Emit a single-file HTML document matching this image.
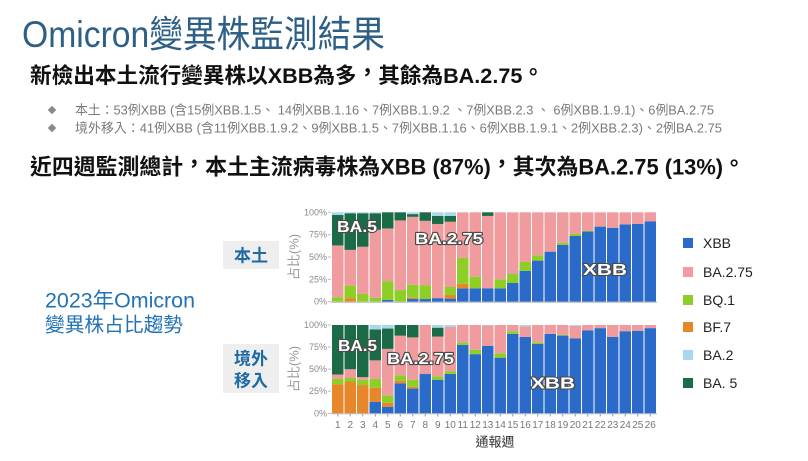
<!DOCTYPE html>
<html lang="zh-TW">
<head>
<meta charset="utf-8">
<style>
  html,body{margin:0;padding:0;background:#fff;}
  body{width:808px;height:461px;overflow:hidden;position:relative;}
  svg{position:absolute;left:0;top:0;}
  .cjk{font-family:"Liberation Sans","Noto Sans CJK TC","Noto Sans CJK SC",sans-serif;}
</style>
</head>
<body>
<svg id="s" lang="zh-TW" width="808" height="461" viewBox="0 0 808 461" xmlns="http://www.w3.org/2000/svg" class="cjk">
  <!-- Title -->
  <text x="22" y="47" font-size="37" fill="#2e5f86" textLength="363" lengthAdjust="spacingAndGlyphs">Omicron變異株監測結果</text>
  <!-- Headline 1 -->
  <text x="30" y="83" font-size="21.5" font-weight="bold" fill="#111" textLength="514" lengthAdjust="spacingAndGlyphs">新檢出本土流行變異株以XBB為多<tspan dy="-3">，</tspan><tspan dy="3">其餘為BA.2.75</tspan><tspan dy="-3">。</tspan></text>
  <!-- bullets -->
  <rect x="49" y="107" width="6" height="6" fill="#8a8a8a" transform="rotate(45 52 110)"/>
  <text x="75" y="114.5" font-size="13" fill="#7a7a7a" textLength="639" lengthAdjust="spacingAndGlyphs">本土：53例XBB (含15例XBB.1.5、 14例XBB.1.16、7例XBB.1.9.2 、7例XBB.2.3 、 6例XBB.1.9.1)、6例BA.2.75</text>
  <rect x="49" y="125" width="6" height="6" fill="#8a8a8a" transform="rotate(45 52 128)"/>
  <text x="75" y="132.5" font-size="13" fill="#7a7a7a" textLength="647" lengthAdjust="spacingAndGlyphs">境外移入：41例XBB (含11例XBB.1.9.2、9例XBB.1.5、7例XBB.1.16、6例XBB.1.9.1、2例XBB.2.3)、2例BA.2.75</text>
  <!-- Headline 2 -->
  <text x="30" y="174.5" font-size="22" font-weight="bold" fill="#111" textLength="715" lengthAdjust="spacingAndGlyphs">近四週監測總計<tspan dy="-3">，</tspan><tspan dy="3">本土主流病毒株為XBB (87%)</tspan><tspan dy="-3">，</tspan><tspan dy="3">其次為BA.2.75 (13%)</tspan><tspan dy="-3">。</tspan></text>

  <!-- Left caption -->
  <text x="45" y="307.5" font-size="21" fill="#2272b6" textLength="150" lengthAdjust="spacingAndGlyphs">2023年Omicron</text>
  <text x="45" y="331.5" font-size="20" fill="#2272b6" textLength="138" lengthAdjust="spacingAndGlyphs">變異株占比趨勢</text>

  <!-- group labels -->
  <rect x="223" y="241" width="56" height="28" fill="#eeeeee"/>
  <text x="251" y="261.5" font-size="17" font-weight="bold" fill="#1d6aa5" text-anchor="middle">本土</text>
  <rect x="223" y="344" width="56" height="49" fill="#eeeeee"/>
  <text x="251" y="364.5" font-size="17" font-weight="bold" fill="#1d6aa5" text-anchor="middle">境外</text>
  <text x="251" y="386.5" font-size="17" font-weight="bold" fill="#1d6aa5" text-anchor="middle">移入</text>

  <!-- y-axis titles -->
  <text x="0" y="0" font-size="13" fill="#9a9a9a" text-anchor="middle" transform="translate(298.5 257) rotate(-90)">占比(%)</text>
  <text x="0" y="0" font-size="13" fill="#9a9a9a" text-anchor="middle" transform="translate(298.5 369) rotate(-90)">占比(%)</text>

  <g id="bars"></g>
  <g id="axes" font-size="9" fill="#8a8a8a"></g>

  <!-- in-chart labels -->
  <g font-family="Liberation Sans, sans-serif" font-weight="bold" font-size="16" fill="#ffffff" stroke="#4a4a4a" stroke-width="2.2" paint-order="stroke" stroke-linejoin="round">
    <text x="337" y="232" textLength="40" lengthAdjust="spacingAndGlyphs">BA.5</text>
    <text x="415" y="244" textLength="68" lengthAdjust="spacingAndGlyphs">BA.2.75</text>
    <text x="583" y="275" textLength="44" lengthAdjust="spacingAndGlyphs">XBB</text>
    <text x="338" y="351" textLength="39" lengthAdjust="spacingAndGlyphs">BA.5</text>
    <text x="387" y="364" textLength="67" lengthAdjust="spacingAndGlyphs">BA.2.75</text>
    <text x="531" y="388.5" textLength="44" lengthAdjust="spacingAndGlyphs">XBB</text>
  </g>

  <!-- x-axis title -->
  <text x="495" y="446.5" font-size="13" fill="#333" text-anchor="middle">通報週</text>

  <!-- legend -->
  <g font-family="Liberation Sans, sans-serif" font-size="14" fill="#222">
    <rect x="683" y="238" width="10" height="10" fill="#2a6bc9"/><text x="703" y="248">XBB</text>
    <rect x="683" y="267" width="10" height="10" fill="#f09b9d"/><text x="703" y="277">BA.2.75</text>
    <rect x="683" y="295" width="10" height="10" fill="#8dcf26"/><text x="703" y="305">BQ.1</text>
    <rect x="683" y="322" width="10" height="10" fill="#e8862a"/><text x="703" y="332">BF.7</text>
    <rect x="683" y="350" width="10" height="10" fill="#a9d7ee"/><text x="703" y="360">BA.2</text>
    <rect x="683" y="378" width="10" height="10" fill="#1c6b47"/><text x="703" y="388">BA. 5</text>
  </g>
</svg>
<script>
(function(){
  var NS="http://www.w3.org/2000/svg";
  var colors=['#2a6bc9','#e8862a','#8dcf26','#f09b9d','#1c6b47','#a9d7ee'];
  var top=[
    [0,0,5,58,34,3],[0,4,14,40,41,1],[0,0,9,52.5,37.5,1],[0,0,4.5,76,18.5,1],[2,0,21,59,18,0],
    [0,0,13,78,9,0],[3,1.5,14.5,76,3,2],[3,0,15.5,72,9.5,0],[4,0,0,83,9,4],[3.5,4,9,73,6.5,4],
    [15,5,29,51,0,0],[15,0,13,72,0,0],[15,0,0,81,4,0],[15,0,10,75,0,0],[21,0,10,69,0,0],
    [34.5,0,10,55.5,0,0],[46,0,6,48,0,0],[56,0,0,44,0,0],[63.5,0,2.5,34,0,0],[73.5,0,2.5,24,0,0],
    [78.5,0,1,20.5,0,0],[84,0,0,16,0,0],[82.5,0,0,17.5,0,0],[86.5,0,0,13.5,0,0],[87,0,0,13,0,0],[90,0,0,10,0,0]
  ];
  var bot=[
    [0,33,6,5,56,0],[0,36,4,10,50,0],[0,32,6,3,59,0],[13,16,10,21,35,5],[7.5,4.5,8,53,23,4],
    [34,3,6,45,12,0],[28,2,8,48,14,0],[44.5,0,0,55.5,0,0],[38,0,4,45,10,3],[44.5,0,3,50.5,0,2],
    [77.5,0,3,19.5,0,0],[67,0,5,28,0,0],[76.5,0,0,23,0,0.5],[63,0,5,32,0,0],[90,0,3,7,0,0],
    [86.5,0,0,12,0,1.5],[78.5,0,2,19.5,0,0],[90,0,0,10,0,0],[88,0,1,11,0,0],[85,0,0,14,0,1],
    [94,0,0,6,0,0],[96.5,0,0,3.5,0,0],[86.5,0,0,13.5,0,0],[93,0,0,7,0,0],[93.5,0,0,6.5,0,0],[96.5,0,0,3.5,0,0]
  ];
  var g=document.getElementById('bars');
  var ax=document.getElementById('axes');
  function el(name,attrs,parent,text){var e=document.createElementNS(NS,name);for(var k in attrs)e.setAttribute(k,attrs[k]);if(text!==undefined)e.textContent=text;parent.appendChild(e);return e;}
  function draw(data,y0,h){
    data.forEach(function(d,i){
      var sum=d.reduce(function(a,b){return a+b;},0);
      var x=332+12.5*i, cum=0;
      d.forEach(function(v,k){
        if(v<=0)return;
        var yTop=y0-(cum+v)/sum*h, hh=v/sum*h;
        el('rect',{x:x,y:yTop.toFixed(2),width:11.5,height:(hh+0.05).toFixed(2),fill:colors[k]},g);
        cum+=v;
      });
    });
    el('line',{x1:331,y1:y0+0.5,x2:657,y2:y0+0.5,stroke:'#b8b8b8','stroke-width':1},g);
    var labs=['0%','25%','50%','75%','100%'];
    for(var j=0;j<5;j++){
      var y=y0-h*j/4;
      el('text',{x:327,y:(y+3).toFixed(1),'text-anchor':'end','font-family':'Liberation Sans, sans-serif'},ax,labs[j]);
      el('line',{x1:328,y1:y,x2:331,y2:y,stroke:'#bbb','stroke-width':1},ax);
    }
  }
  draw(top,301.7,89.4);
  draw(bot,413.3,88.3);
  for(var i=0;i<26;i++){
    var cx=332+12.5*i+5.75;
    el('line',{x1:cx,y1:414,x2:cx,y2:416.5,stroke:'#999','stroke-width':1},ax);
    el('text',{x:cx,y:428,'text-anchor':'middle','font-size':'10','fill':'#777','font-family':'Liberation Sans, sans-serif'},ax,String(i+1));
  }
})();
</script>
</body>
</html>
